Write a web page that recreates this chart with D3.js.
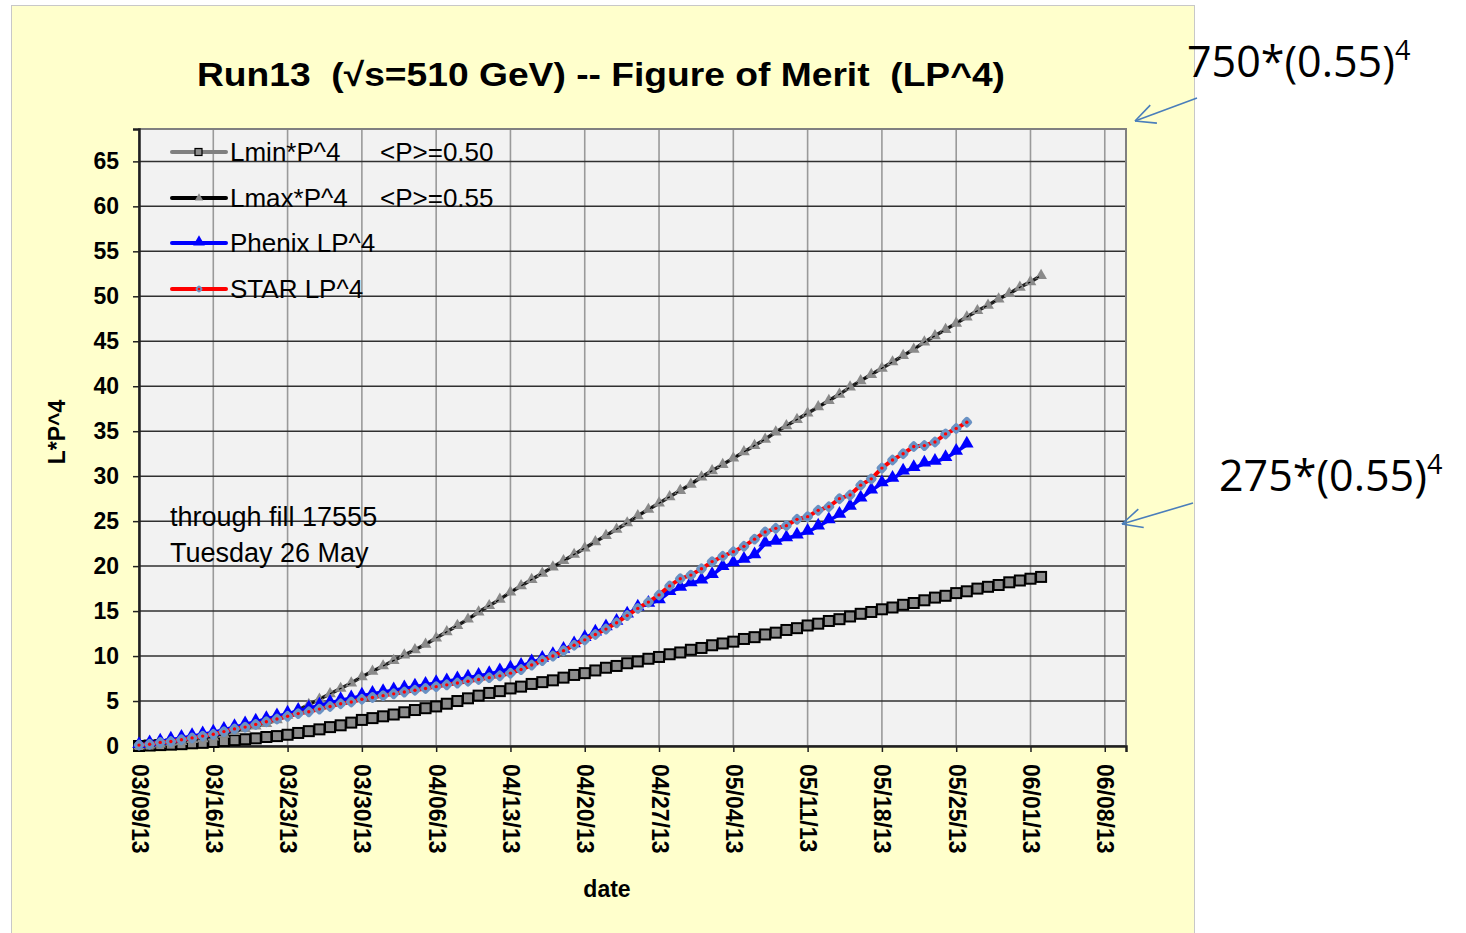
<!DOCTYPE html>
<html>
<head>
<meta charset="utf-8">
<script src="https://cdn.jsdelivr.net/npm/d3@7"></script>
<style>
  html, body { margin: 0; padding: 0; background: #ffffff; }
  svg { display: block; }
</style>
</head>
<body>
<svg id="chart" width="1466" height="933"></svg>
<script>
// ---------------- DATA ----------------
const startDate = "2013-03-09";          // first daily point
const xTickLabels = ["03/09/13","03/16/13","03/23/13","03/30/13","04/06/13","04/13/13","04/20/13",
                     "04/27/13","05/04/13","05/11/13","05/18/13","05/25/13","06/01/13","06/08/13"];
const yTicks = [0,5,10,15,20,25,30,35,40,45,50,55,60,65];

// Lmin*P^4  <P>=0.50  (daily, 03/09 .. 06/02)
const lminValues = [
  0.0,0.05,0.1,0.15,0.2,0.3,0.35,0.45,
  0.55,0.65,0.75,0.85,1.0,1.1,1.25,
  1.45,1.65,1.85,2.1,2.3,2.6,2.9,
  3.1,3.3,3.5,3.75,4.0,4.2,4.4,
  4.7,5.0,5.3,5.6,5.9,6.1,6.4,
  6.6,6.9,7.1,7.3,7.6,7.9,8.1,
  8.4,8.7,8.9,9.2,9.4,9.7,9.9,
  10.2,10.4,10.7,10.9,11.2,11.4,11.6,
  11.9,12.1,12.4,12.6,12.9,13.1,13.4,
  13.6,13.9,14.1,14.4,14.7,14.9,15.2,
  15.4,15.7,15.9,16.2,16.5,16.7,17.0,
  17.2,17.5,17.7,17.9,18.2,18.4,18.6,18.8
];
// Lmax*P^4  <P>=0.55
const lmaxValues = [
  0.0,0.1,0.2,0.4,0.5,0.7,0.8,1.0,
  1.3,1.6,1.9,2.2,2.5,2.9,3.4,
  4.0,4.6,5.2,5.8,6.4,7.0,7.7,
  8.3,8.9,9.5,10.1,10.7,11.3,12.0,
  12.7,13.4,14.1,14.9,15.6,16.3,17.1,
  17.8,18.5,19.2,19.9,20.6,21.3,22.0,
  22.7,23.4,24.1,24.8,25.6,26.3,27.0,
  27.7,28.4,29.1,29.9,30.6,31.3,32.0,
  32.7,33.4,34.1,34.9,35.6,36.3,37.0,
  37.7,38.4,39.1,39.9,40.6,41.3,42.0,
  42.7,43.4,44.1,44.9,45.6,46.3,47.0,
  47.7,48.4,49.0,49.7,50.3,51.0,51.6,52.3
];
// Phenix LP^4 (daily, 03/09 .. 05/26)
const phenixValues = [
  0.1,0.3,0.5,0.7,0.9,1.1,1.3,1.5,
  1.8,2.1,2.4,2.7,3.0,3.3,3.6,
  3.9,4.2,4.5,4.8,5.1,5.3,5.6,
  5.8,6.0,6.2,6.4,6.6,6.8,7.0,
  7.2,7.4,7.6,7.8,8.0,8.3,8.6,
  8.9,9.3,9.7,10.1,10.7,11.3,12.0,
  12.6,13.2,13.8,14.6,15.4,15.8,16.2,
  17.1,17.6,18.1,18.4,19.0,19.9,20.3,
  20.7,21.2,22.5,22.7,23.1,23.4,23.8,
  24.4,25.1,25.7,26.6,27.5,28.4,29.2,
  29.7,30.5,30.9,31.4,31.6,32.0,32.7,33.5
];
// STAR LP^4 (daily, 03/09 .. 05/26)
const starValues = [
  0.1,0.2,0.4,0.5,0.7,0.9,1.1,1.3,
  1.6,1.9,2.1,2.4,2.7,3.0,3.3,
  3.6,3.8,4.1,4.4,4.7,4.9,5.2,
  5.4,5.6,5.8,6.0,6.2,6.4,6.6,
  6.8,7.0,7.2,7.4,7.6,7.8,8.1,
  8.5,9.0,9.5,10.0,10.6,11.2,11.8,
  12.4,13.0,13.7,14.5,15.3,16.0,16.8,
  17.8,18.6,19.0,19.7,20.5,21.1,21.6,
  22.2,23.0,23.8,24.2,24.5,25.2,25.5,
  26.2,26.6,27.5,27.9,29.0,29.7,30.9,
  31.8,32.5,33.3,33.4,33.8,34.7,35.3,36.0
];
const seriesNames = ["Lmin*P^4", "Lmax*P^4", "Phenix LP^4", "STAR LP^4"];
const legendNotes = ["<P>=0.50", "<P>=0.55", "", ""];
const titleText = "Run13  (\u221As=510 GeV) -- Figure of Merit  (LP^4)";
const noteLines = ["through fill 17555", "Tuesday 26 May"];

// ---------------- LAYOUT ----------------
const svg = d3.select("#chart");
const plot = { left: 139, top: 129, right: 1126, bottom: 746 };
const FONT = "Liberation Sans, Arial, sans-serif";

const parse = d3.utcParse("%Y-%m-%d");
const d0 = parse(startDate);
const x = d3.scaleUtc()
  .domain([d0, d3.utcDay.offset(d0, 93)])
  .range([plot.left, plot.right]);
const y = d3.scaleLinear().domain([0, 68.6]).range([plot.bottom, plot.top]);

const toPts = vals => vals.map((v, i) => ({ date: d3.utcDay.offset(d0, i), v }));

// panel background
svg.append("rect").attr("x", 0).attr("y", 0).attr("width", 1466).attr("height", 933).attr("fill", "#ffffff");
svg.append("rect").attr("x", 11.5).attr("y", 5.5).attr("width", 1183).attr("height", 940)
  .attr("fill", "#FFFFCC").attr("stroke", "#C8C8C8").attr("stroke-width", 1);

// plot area
svg.append("rect").attr("x", plot.left).attr("y", plot.top)
  .attr("width", plot.right - plot.left).attr("height", plot.bottom - plot.top)
  .attr("fill", "#F2F2F2");

const weekTicks = d3.range(xTickLabels.length).map(i => d3.utcDay.offset(d0, i * 7));

// vertical gridlines
svg.append("g").selectAll("line").data(weekTicks.slice(1)).join("line")
  .attr("x1", d => x(d)).attr("x2", d => x(d))
  .attr("y1", plot.top).attr("y2", plot.bottom)
  .attr("stroke", "#9A9A9A").attr("stroke-width", 1.6);

// horizontal gridlines
svg.append("g").selectAll("line").data(yTicks.slice(1)).join("line")
  .attr("x1", plot.left).attr("x2", plot.right)
  .attr("y1", d => y(d)).attr("y2", d => y(d))
  .attr("stroke", "#303030").attr("stroke-width", 1.5);

// frame
svg.append("rect").attr("x", plot.left).attr("y", plot.top)
  .attr("width", plot.right - plot.left).attr("height", plot.bottom - plot.top)
  .attr("fill", "none").attr("stroke", "#808080").attr("stroke-width", 2);

// axes
const yAxis = d3.axisLeft(y).tickValues(yTicks).tickSize(6).tickPadding(14).tickFormat(d3.format("d"));
const gy = svg.append("g").attr("transform", `translate(${plot.left},0)`).call(yAxis);
gy.select(".domain").attr("stroke", "#202020").attr("stroke-width", 2.5);
gy.selectAll(".tick line").attr("stroke", "#202020").attr("stroke-width", 1.5);
gy.selectAll("text").attr("font-family", FONT)
  .attr("font-size", 23).attr("font-weight", "bold").attr("fill", "#000");

const xAxis = d3.axisBottom(x).tickValues(weekTicks).tickSize(6)
  .tickFormat((d, i) => xTickLabels[i]);
const gx = svg.append("g").attr("transform", `translate(0,${plot.bottom})`).call(xAxis);
gx.select(".domain").attr("stroke", "#202020").attr("stroke-width", 2.5);
gx.selectAll(".tick line").attr("stroke", "#202020").attr("stroke-width", 1.5);
gx.selectAll("text")
  .attr("font-family", FONT)
  .attr("font-size", 23).attr("font-weight", "bold").attr("fill", "#000")
  .attr("text-anchor", "start").attr("dy", null).attr("y", 0)
  .attr("transform", "translate(-8,18) rotate(90)");

// axis titles
svg.append("text").attr("x", 607).attr("y", 897).attr("text-anchor", "middle")
  .attr("font-family", FONT).attr("font-size", 23)
  .attr("font-weight", "bold").text("date");
svg.append("text").attr("transform", "translate(65,432) rotate(-90)").attr("text-anchor", "middle")
  .attr("font-family", FONT).attr("font-size", 23)
  .attr("font-weight", "bold").text("L*P^4");

// title
svg.append("text").attr("x", 197).attr("y", 86)
  .attr("font-family", FONT).attr("font-size", 33)
  .attr("font-weight", "bold").attr("textLength", 808).attr("lengthAdjust", "spacingAndGlyphs")
  .style("white-space", "pre").text(titleText);

// ---------------- SERIES ----------------
const line = d3.line().x(d => x(d.date)).y(d => y(d.v));
const g = svg.append("g");

// Lmin: gray line with black-edged gray squares
const lminPts = toPts(lminValues);
g.append("path").datum(lminPts).attr("d", line).attr("fill", "none")
  .attr("stroke", "#808080").attr("stroke-width", 3);
g.append("g").selectAll("rect").data(lminPts).join("rect")
  .attr("x", d => x(d.date) - 5).attr("y", d => y(d.v) - 5)
  .attr("width", 10).attr("height", 10)
  .attr("fill", "#8C8C8C").attr("stroke", "#000").attr("stroke-width", 2);

// Lmax: black line with gray triangles
const lmaxPts = toPts(lmaxValues);
const triSmall = d3.symbol().type(d3.symbolTriangle).size(60);
g.append("path").datum(lmaxPts).attr("d", line).attr("fill", "none")
  .attr("stroke", "#222").attr("stroke-width", 3.5);
g.append("g").selectAll("path").data(lmaxPts).join("path")
  .attr("d", triSmall).attr("transform", d => `translate(${x(d.date)},${y(d.v)})`)
  .attr("fill", "#8A8A8A");
g.append("path").datum(lmaxPts).attr("d", line).attr("fill", "none")
  .attr("stroke", "#000").attr("stroke-width", 1.2).attr("stroke-dasharray", "3,7");

// Phenix: blue line with blue triangles
const phxPts = toPts(phenixValues);
const triBig = d3.symbol().type(d3.symbolTriangle).size(80);
g.append("path").datum(phxPts).attr("d", line).attr("fill", "none")
  .attr("stroke", "#0000FF").attr("stroke-width", 3.5);
g.append("g").selectAll("path").data(phxPts).join("path")
  .attr("d", triBig).attr("transform", d => `translate(${x(d.date)},${y(d.v) - 1})`)
  .attr("fill", "#0000FF");

// STAR: red line with blue-gray markers and red centre
const starPts = toPts(starValues);
g.append("path").datum(starPts).attr("d", line).attr("fill", "none")
  .attr("stroke", "#FF0000").attr("stroke-width", 4);
const starM = g.append("g").selectAll("g").data(starPts).join("g")
  .attr("transform", d => `translate(${x(d.date)},${y(d.v)})`);
starM.append("rect").attr("x", -4.5).attr("y", -4.5).attr("width", 9).attr("height", 9)
  .attr("rx", 2.5).attr("transform", "rotate(45)").attr("fill", "#6A92C4");
starM.append("circle").attr("r", 1.7).attr("fill", "#FF0000");

// ---------------- LEGEND ----------------
const legY = [152, 198, 243, 289];
const legStyles = [
  { stroke: "#808080", w: 4 },
  { stroke: "#000000", w: 4 },
  { stroke: "#0000FF", w: 4 },
  { stroke: "#FF0000", w: 4 }
];
const leg = svg.append("g");
seriesNames.forEach((name, i) => {
  const yy = legY[i];
  leg.append("line").attr("x1", 172).attr("x2", 226).attr("y1", yy).attr("y2", yy)
    .attr("stroke", legStyles[i].stroke).attr("stroke-width", legStyles[i].w).attr("stroke-linecap", "round");
  if (i === 0) {
    leg.append("rect").attr("x", 195).attr("y", yy - 3.5).attr("width", 7).attr("height", 7)
      .attr("fill", "#8C8C8C").attr("stroke", "#000").attr("stroke-width", 1.2);
  } else if (i === 1) {
    leg.append("path").attr("d", d3.symbol().type(d3.symbolTriangle).size(30))
      .attr("transform", `translate(199,${yy})`).attr("fill", "#8A8A8A");
  } else if (i === 2) {
    leg.append("path").attr("d", d3.symbol().type(d3.symbolTriangle).size(60))
      .attr("transform", `translate(199,${yy - 1})`).attr("fill", "#0000FF");
  } else {
    leg.append("rect").attr("x", -3).attr("y", -3).attr("width", 6).attr("height", 6).attr("rx", 2)
      .attr("transform", `translate(199,${yy}) rotate(45)`).attr("fill", "#6A92C4");
    leg.append("circle").attr("cx", 199).attr("cy", yy).attr("r", 1.3).attr("fill", "#FF0000");
  }
  leg.append("text").attr("x", 230).attr("y", yy + 9)
    .attr("font-family", FONT).attr("font-size", 26)
    .attr("fill", "#000").text(name);
  if (legendNotes[i]) {
    leg.append("text").attr("x", 380).attr("y", yy + 9)
      .attr("font-family", FONT).attr("font-size", 26)
      .attr("fill", "#000").text(legendNotes[i]);
  }
});

// note text
noteLines.forEach((t, i) => {
  svg.append("text").attr("x", 170).attr("y", 526 + i * 36)
    .attr("font-family", FONT).attr("font-size", 27)
    .attr("fill", "#000").text(t);
});

// ---------------- ANNOTATIONS (outside chart) ----------------
function annot(xs, ybase, main, sup) {
  const t = svg.append("text").attr("x", xs).attr("y", ybase)
    .attr("font-family", "Open Sans, Liberation Sans, sans-serif").attr("font-size", 43).attr("fill", "#000");
  t.append("tspan").text(main);
  t.append("tspan").attr("font-size", 27).attr("dy", -17).text(sup);
}
annot(1187, 77, "750*(0.55)", "4");
annot(1219, 491, "275*(0.55)", "4");

function arrow(x1, y1, x2, y2) {
  const ga = svg.append("g").attr("stroke", "#4A7EBB").attr("stroke-width", 1.6).attr("fill", "none");
  ga.append("line").attr("x1", x1).attr("y1", y1).attr("x2", x2).attr("y2", y2);
  const ang = Math.atan2(y1 - y2, x1 - x2);
  const L = 22, spread = 0.45;
  [ang - spread, ang + spread].forEach(a => {
    ga.append("line").attr("x1", x2).attr("y1", y2)
      .attr("x2", x2 + L * Math.cos(a)).attr("y2", y2 + L * Math.sin(a));
  });
}
arrow(1197, 98, 1135, 121);
arrow(1193, 503, 1122, 524);
</script>
</body>
</html>
